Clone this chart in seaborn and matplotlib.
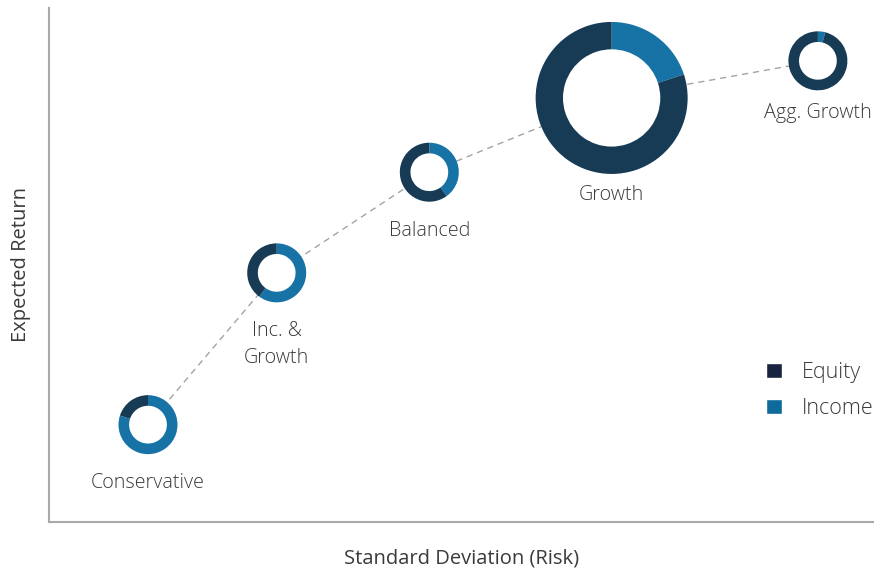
import numpy as np
import pandas as pd
import seaborn as sns
import matplotlib.pyplot as plt
from matplotlib.patches import Patch, Circle

# portfolio data (risk / return in arbitrary chart units)
portfolios = ["Conservative", "Inc. &\nGrowth", "Balanced", "Growth", "Agg. Growth"]
risk = [12.0, 27.6, 46.1, 68.2, 93.2]
exp_return = [11.8, 30.2, 42.4, 51.4, 55.9]
equity = [20, 40, 60, 80, 96]
income = [80, 60, 40, 20, 4]

highlight = "Growth"
label_gap = {"Growth": 11, "Agg. Growth": 13}   # px below ring, default 19

equity_col = '#173a55'
income_col = '#1773a6'
equity_leg = '#18233f'
income_leg = '#0d6a9b'
spine_col = '#a9a9a9'
text_col = '#3a3a3a'

sns.set_style('white')
plt.rcParams['font.family'] = ['Open Sans', 'DejaVu Sans']
plt.rcParams['font.weight'] = 'light'

df = pd.DataFrame({'name': portfolios, 'risk': risk, 'ret': exp_return,
                   'equity': equity, 'income': income})

W, H = 874, 569
fig = plt.figure(figsize=(W / 100, H / 100), dpi=100)
ax = fig.add_axes([49 / W, 47 / H, 825 / W, 514 / H])

# dashed frontier line behind the donuts
sns.lineplot(data=df, x='risk', y='ret', sort=False, ax=ax, color='#a3a3a3',
             lw=1, linestyle=(0, (4.5, 3.5)), zorder=1)

px_per_unit = 825 / 100
for _, row in df.iterrows():
    r_px = 76 if row['name'] == highlight else 29.5
    r = r_px / px_per_unit
    ax.add_patch(Circle((row['risk'], row['ret']), r * 0.99, facecolor='white',
                        edgecolor='none', zorder=2))
    ax.pie([row['income'], row['equity']], colors=[income_col, equity_col],
           startangle=90, counterclock=False, radius=r,
           center=(row['risk'], row['ret']), frame=True,
           wedgeprops=dict(width=r * 0.36, linewidth=0, zorder=3))
    gap = label_gap.get(row['name'], 19)
    ax.annotate(row['name'], (row['risk'], row['ret']),
                xytext=(0, -(r_px + gap) * 0.72), textcoords='offset points',
                ha='center', va='top', fontsize=14.2, color=text_col,
                linespacing=1.45)

ax.set_xlim(0, 100)
ax.set_ylim(0, 100 * 514 / 825)
ax.set_aspect('equal', adjustable='box')
ax.set_xticks([])
ax.set_yticks([])
for s in ['top', 'right']:
    ax.spines[s].set_visible(False)
for s in ['left', 'bottom']:
    ax.spines[s].set_color(spine_col)
    ax.spines[s].set_linewidth(1.5)

ax.set_xlabel('Standard Deviation (Risk)', fontsize=14.5, color=text_col, labelpad=19)
ax.set_ylabel('Expected Return', fontsize=14.5, color=text_col, labelpad=13)

handles = [Patch(facecolor=equity_leg, label='Equity'),
           Patch(facecolor=income_leg, label='Income')]
fig.legend(handles=handles, loc='upper left', bbox_to_anchor=(766 / W, 1 - 362 / H),
           frameon=False, fontsize=15.5, handlelength=0.75, handleheight=0.75,
           handletextpad=0.9, labelspacing=0.7, borderpad=0, borderaxespad=0,
           labelcolor=text_col)

fig.savefig('out.png', dpi=100)
